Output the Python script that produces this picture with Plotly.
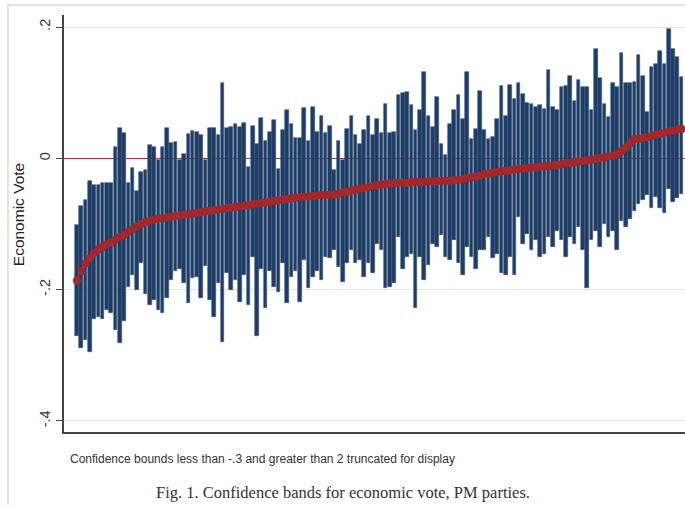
import numpy as np
import plotly.graph_objects as go

# Economic vote estimates for PM parties, sorted by point estimate,
# with their lower / upper confidence bounds.
estimate = [
    -0.186, -0.172, -0.160, -0.152, -0.144, -0.139, -0.135, -0.131, -0.128, -0.124,
    -0.120, -0.117, -0.112, -0.108, -0.104, -0.100, -0.097, -0.095, -0.093, -0.092,
    -0.091, -0.090, -0.089, -0.088, -0.087, -0.086, -0.085, -0.084, -0.083, -0.082,
    -0.081, -0.080, -0.079, -0.078, -0.077, -0.076, -0.075, -0.074, -0.073, -0.072,
    -0.071, -0.070, -0.069, -0.068, -0.067, -0.066, -0.065, -0.064, -0.063, -0.062,
    -0.061, -0.060, -0.059, -0.058, -0.058, -0.057, -0.057, -0.056, -0.056, -0.055,
    -0.055, -0.054, -0.052, -0.051, -0.049, -0.048, -0.046, -0.045, -0.044, -0.042,
    -0.041, -0.040, -0.039, -0.038, -0.038, -0.037, -0.037, -0.037, -0.036, -0.036,
    -0.036, -0.036, -0.035, -0.035, -0.035, -0.034, -0.034, -0.034, -0.033, -0.033,
    -0.032, -0.030, -0.029, -0.028, -0.026, -0.024, -0.023, -0.022, -0.021, -0.020,
    -0.019, -0.018, -0.017, -0.016, -0.016, -0.015, -0.014, -0.014, -0.013, -0.012,
    -0.012, -0.011, -0.010, -0.009, -0.008, -0.007, -0.006, -0.005, -0.004, -0.003,
    -0.002, -0.001, 0.000, 0.001, 0.003, 0.004, 0.006, 0.011, 0.016, 0.023,
    0.029, 0.030, 0.031, 0.032, 0.034, 0.036, 0.038, 0.039, 0.041, 0.042,
    0.044, 0.045,
]

upper = [
    -0.102, -0.072, -0.064, -0.034, -0.041, -0.041, -0.037, -0.037, -0.038, 0.017,
    0.046, 0.038, -0.038, -0.015, -0.049, -0.021, -0.018, 0.021, 0.018, -0.003,
    0.017, 0.046, 0.023, 0.025, -0.003, 0.007, 0.037, 0.041, 0.040, 0.035,
    -0.002, 0.046, 0.046, 0.036, 0.114, 0.046,
    0.048, 0.053, 0.048, 0.054, -0.013, 0.050, 0.022, 0.062, 0.027, 0.040,
    0.058, -0.016, 0.043, 0.074, 0.052, 0.031, 0.031, 0.076, 0.027, 0.078,
    0.040, 0.065, 0.038, 0.050, -0.018, 0.026, -0.003, 0.045, 0.065, 0.035,
    0.022, 0.043, 0.065, 0.035, 0.060, 0.038, 0.083, 0.038, 0.040, 0.097,
    0.099, 0.101, 0.081, 0.043, 0.073, 0.131, 0.065, 0.048, 0.093, 0.022,
    0.005, 0.052, 0.073, 0.097, 0.060,
    0.131, 0.029, 0.045, 0.103, 0.043, 0.029, 0.032, 0.060, 0.110, 0.065,
    0.111, 0.091, 0.114, 0.098, 0.085, 0.083, 0.078, 0.081, 0.075, 0.134,
    0.078, 0.073, 0.108, 0.110, 0.125, 0.088, 0.120, 0.108, 0.109, 0.073,
    0.167, 0.122, 0.083, 0.063, 0.115, 0.108, 0.160, 0.114, 0.114, 0.116,
    0.158, 0.126, 0.070, 0.139, 0.144, 0.163, 0.144, 0.197, 0.167, 0.154,
    0.124,
]

lower = [
    -0.270, -0.289, -0.277, -0.295, -0.244, -0.241, -0.244, -0.231, -0.235, -0.262,
    -0.282, -0.247, -0.196, -0.178, -0.201, -0.160, -0.206, -0.224, -0.216, -0.231,
    -0.236, -0.212, -0.186, -0.171, -0.168, -0.190, -0.221, -0.183, -0.181, -0.212,
    -0.164, -0.216, -0.242, -0.190, -0.280, -0.174,
    -0.201, -0.186, -0.219, -0.178, -0.224, -0.150, -0.270, -0.168, -0.228, -0.171,
    -0.196, -0.204, -0.160, -0.221, -0.181, -0.171, -0.219, -0.155, -0.198, -0.180,
    -0.171, -0.185, -0.150, -0.152, -0.140, -0.166, -0.189, -0.160, -0.140, -0.160,
    -0.155, -0.181, -0.160, -0.174, -0.130, -0.140, -0.198, -0.196, -0.190, -0.120,
    -0.168, -0.150, -0.145, -0.228, -0.150, -0.186, -0.163, -0.130, -0.135, -0.117,
    -0.150, -0.155, -0.125, -0.160, -0.178,
    -0.135, -0.150, -0.168, -0.140, -0.140, -0.120, -0.152, -0.145, -0.175, -0.178,
    -0.150, -0.178, -0.090, -0.130, -0.115, -0.140, -0.125, -0.150, -0.145, -0.120,
    -0.135, -0.110, -0.125, -0.150, -0.120, -0.130, -0.105, -0.140, -0.198, -0.125,
    -0.110, -0.135, -0.100, -0.120, -0.110, -0.140, -0.095, -0.105, -0.092, -0.080,
    -0.070, -0.064, -0.056, -0.075, -0.059, -0.076, -0.084, -0.046, -0.067, -0.060,
    -0.055,
]

y_ticks = [-0.4, -0.2, 0, 0.2]
y_tick_text = ["-.4", "-.2", "0", ".2"]

rank = np.arange(1, len(estimate) + 1)
lo = np.array(lower)
hi = np.array(upper)

NAVY = "#1f3d64"
CRANBERRY = "#a4272c"

fig = go.Figure()

# Confidence bands as floating bars
fig.add_trace(go.Bar(
    x=rank, y=hi - lo, base=lo, width=0.84,
    marker=dict(color=NAVY, line=dict(color="#3a5880", width=0.6)),
    hoverinfo="skip", showlegend=False,
))

# Point estimates
fig.add_trace(go.Scatter(
    x=rank, y=estimate, mode="markers",
    marker=dict(color=CRANBERRY, size=8, line=dict(width=0)),
    showlegend=False,
))

# Outer graph-region frame
fig.add_shape(type="rect", xref="paper", yref="paper",
              x0=-0.0902, x1=1.05, y0=-0.2, y1=1.024,
              line=dict(color="#dcdcdc", width=1.5), fillcolor="rgba(0,0,0,0)",
              layer="below")

fig.update_layout(
    width=685, height=505,
    margin=dict(l=64, r=0, t=15, b=73),
    paper_bgcolor="white", plot_bgcolor="white",
    font=dict(family="Liberation Sans, Arial, sans-serif", color="#222"),
    bargap=0,
    xaxis=dict(
        range=[-2.0, 142.8], showticklabels=False, ticks="",
        showgrid=False, zeroline=False,
        showline=True, linecolor="#444", linewidth=1.6, mirror=False,
    ),
    yaxis=dict(
        range=[-0.4168, 0.2183],
        tickvals=y_ticks, ticktext=y_tick_text, tickangle=-90,
        tickfont=dict(size=14.5, color="#333"),
        ticks="outside", ticklen=6, tickcolor="#444", tickwidth=1.2,
        showgrid=True, gridcolor="#e4e4e4", gridwidth=1,
        # reference line at zero, drawn behind the bands
        zeroline=True, zerolinecolor="#b0353b", zerolinewidth=1.4,
        showline=True, linecolor="#444", linewidth=1.6,
    ),
    annotations=[
        dict(text="Economic Vote", textangle=-90, xref="paper", yref="paper",
             x=-0.074, y=0.52, xanchor="center", yanchor="middle",
             showarrow=False, font=dict(size=15.5, color="#222")),
        dict(text="Confidence bounds less than -.3 and greater than 2 truncated for display",
             xref="paper", yref="paper", x=0.0064, y=-0.0647,
             xanchor="left", yanchor="middle", showarrow=False,
             font=dict(size=12, color="#333")),
        dict(text="Fig. 1. Confidence bands for economic vote, PM parties.",
             xref="paper", yref="paper", x=0.449, y=-0.146,
             xanchor="center", yanchor="middle", showarrow=False,
             font=dict(family="Liberation Serif, Times New Roman, serif",
                       size=16.5, color="#333")),
    ],
)

fig.write_html("out.html")
